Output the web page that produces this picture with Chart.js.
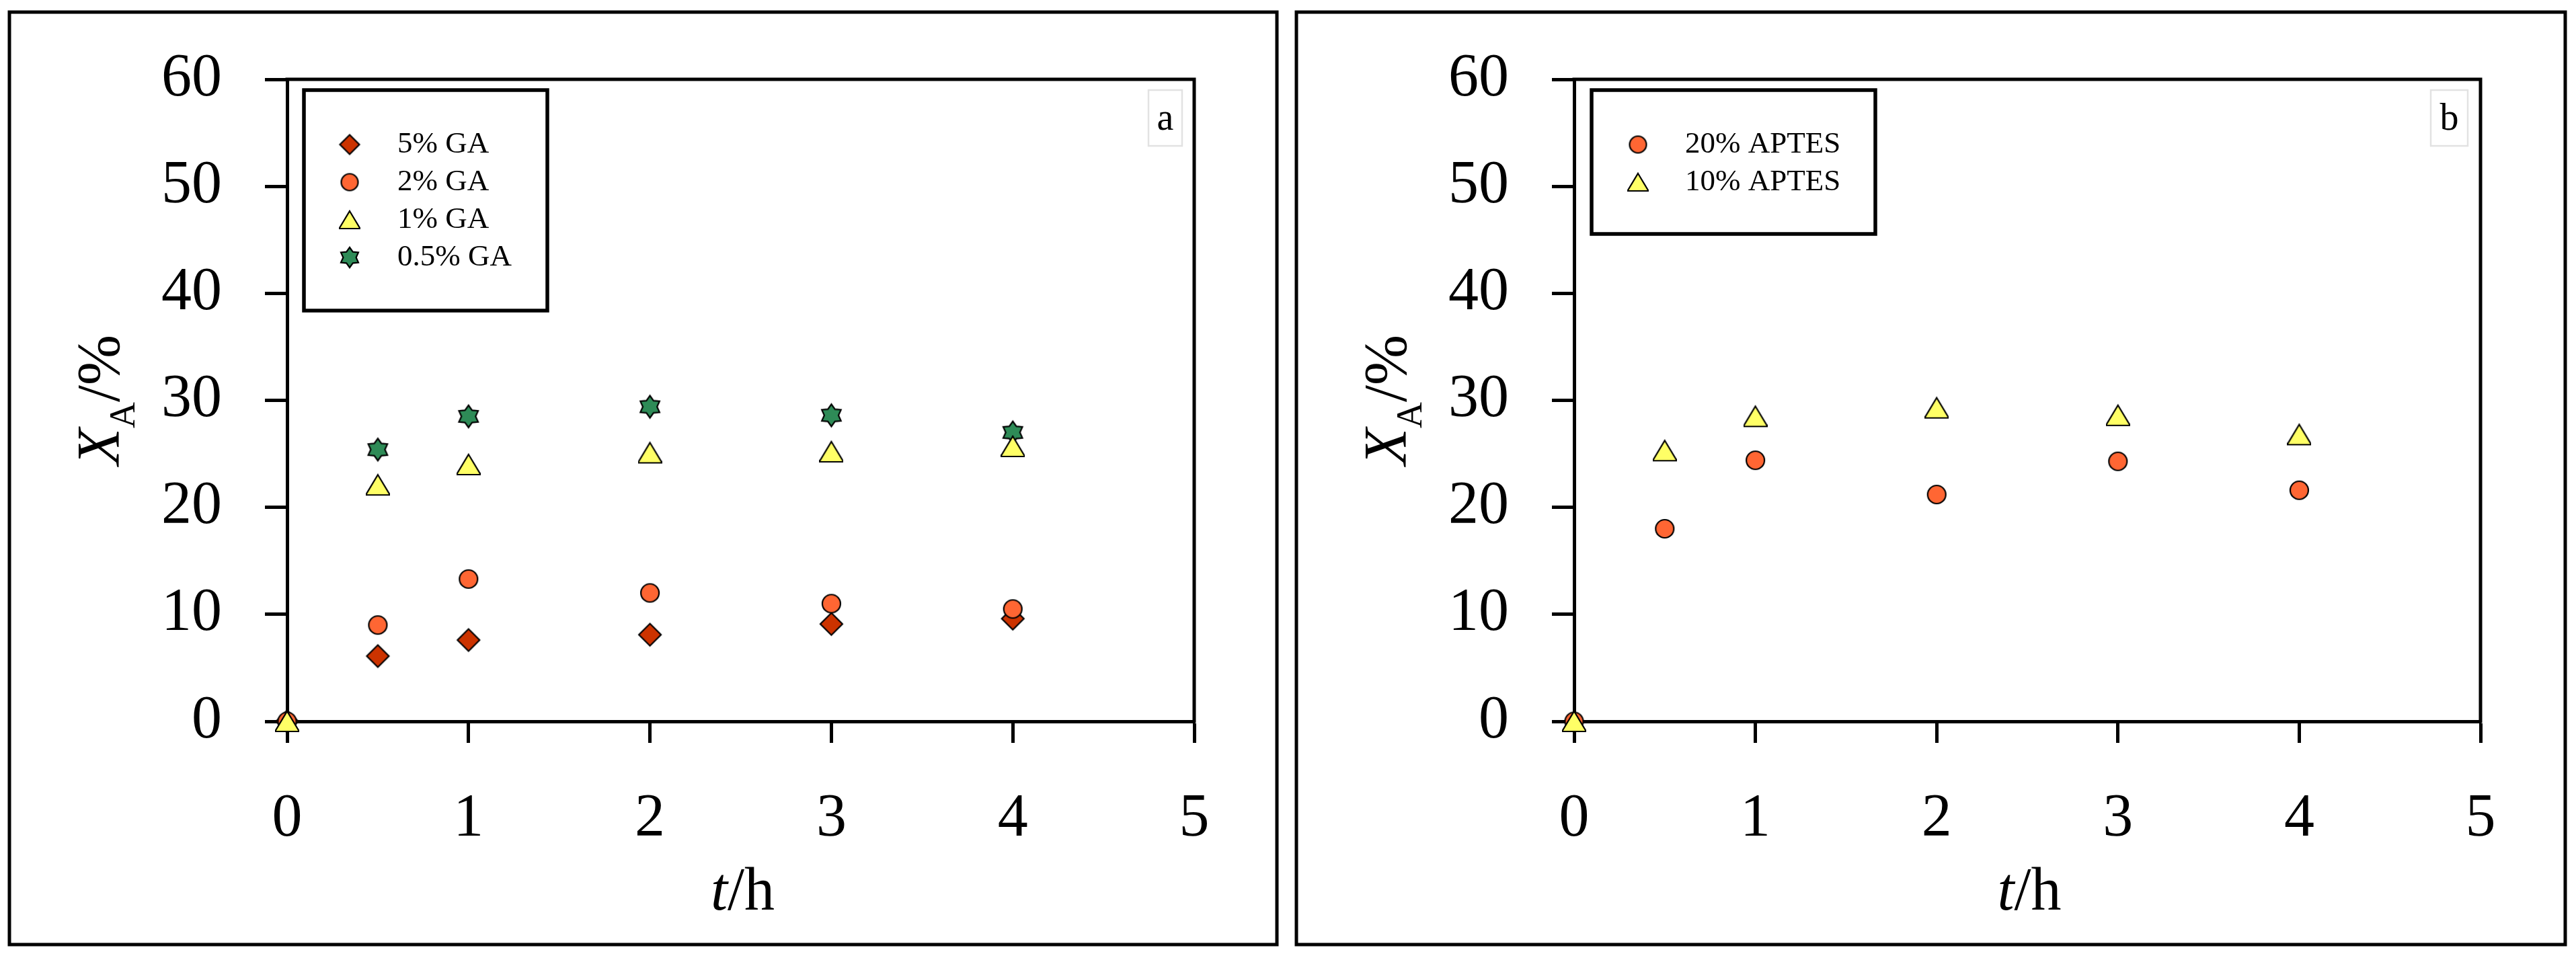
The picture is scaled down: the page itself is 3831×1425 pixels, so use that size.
<!DOCTYPE html>
<html><head><meta charset="utf-8">
<script src="https://cdn.jsdelivr.net/npm/chart.js@4.4.1/dist/chart.umd.min.js"></script>
<style>
html,body{margin:0;padding:0;background:#fff;}
#wrap{position:relative;width:3831px;height:1425px;overflow:hidden;background:#fff;}
canvas{position:absolute;top:0;}
</style></head><body>
<div id="wrap">
<canvas id="ca" width="1914" height="1425" style="left:0px"></canvas>
<canvas id="cb" width="1917" height="1425" style="left:1914px"></canvas>
</div>
<script>
// ---------- data ----------
const timesH = [0, 0.5, 1, 2, 3, 4];
const timesStar = [0.5, 1, 2, 3, 4];
const ga5 = [0, 6.1, 7.6, 8.1, 9.1, 9.6];
const ga2 = [0, 9.0, 13.3, 12.0, 11.0, 10.5];
const ga1 = [0, 22.1, 24.0, 25.1, 25.2, 25.7];
const ga05 = [25.4, 28.5, 29.4, 28.6, 27.0];
const aptes20 = [0, 18.0, 24.4, 21.2, 24.3, 21.6];
const aptes10 = [0, 25.3, 28.5, 29.3, 28.6, 26.8];
const labelsA = ['5% GA', '2% GA', '1% GA', '0.5% GA'];
const labelsB = ['20% APTES', '10% APTES'];
const xTickValues = [0, 1, 2, 3, 4, 5];
const yTickValues = [0, 10, 20, 30, 40, 50, 60];
const panelLetters = ['a', 'b'];

// ---------- styles ----------
const COL = {diamond:'#CC3300', circle:'#FF6633', triangle:'#FFFF66', star:'#2E8B57'};
const SERIF = "'Liberation Serif', 'Times New Roman', serif";

function marker(shape, s, fill) {
  const c = document.createElement('canvas');
  const size = Math.ceil(s * 2 + 6);
  c.width = size; c.height = size;
  const g = c.getContext('2d');
  const cx = size / 2, cy = size / 2;
  g.beginPath();
  if (shape === 'diamond') {
    g.moveTo(cx, cy - s); g.lineTo(cx + s, cy); g.lineTo(cx, cy + s); g.lineTo(cx - s, cy); g.closePath();
  } else if (shape === 'circle') {
    g.arc(cx, cy, s, 0, Math.PI * 2);
  } else if (shape === 'triangle') {
    const w = s * 1.2, h = s;
    g.moveTo(cx, cy - h); g.lineTo(cx + w, cy + h); g.lineTo(cx - w, cy + h); g.closePath();
  } else if (shape === 'star') {
    const ri = s * 0.64;
    for (let k = 0; k < 12; k++) {
      const r = (k % 2 === 0) ? s : ri;
      const a = -Math.PI / 2 + k * Math.PI / 6;
      const px = cx + r * Math.cos(a), py = cy + r * Math.sin(a);
      if (k === 0) g.moveTo(px, py); else g.lineTo(px, py);
    }
    g.closePath();
  }
  g.fillStyle = fill; g.fill();
  g.lineWidth = 2.2; g.strokeStyle = '#000'; g.lineJoin = 'miter'; g.stroke();
  return c;
}
const M = {
  diamond: marker('diamond', 16.5, COL.diamond),
  circle: marker('circle', 13.5, COL.circle),
  triangle: marker('triangle', 15, COL.triangle),
  star: marker('star', 16.5, COL.star)
};
const ML = {
  diamond: marker('diamond', 14.5, COL.diamond),
  circle: marker('circle', 12.5, COL.circle),
  triangle: marker('triangle', 13, COL.triangle),
  star: marker('star', 15, COL.star)
};

function pts(xs, ys) { return xs.map((x, i) => ({x: x, y: ys[i]})); }
function ds(label, xs, ys, shape, order) {
  return {label: label, data: pts(xs, ys), pointStyle: M[shape], _shape: shape,
    showLine: false, clip: false, order: order, pointRadius: 15, pointHoverRadius: 15};
}

const decor = {
  id: 'decor',
  beforeDatasetsDraw(chart, args, o) {
    const ctx = chart.ctx;
    const ca = chart.chartArea;
    ctx.save();
    // outer panel border
    ctx.strokeStyle = '#000'; ctx.lineWidth = 5;
    ctx.strokeRect(o.outer[0], o.outer[1], o.outer[2] - o.outer[0], o.outer[3] - o.outer[1]);
    // plot frame top & right
    ctx.lineWidth = 5;
    ctx.beginPath();
    ctx.moveTo(ca.left - 2.5, ca.top); ctx.lineTo(ca.right, ca.top); ctx.lineTo(ca.right, ca.bottom + 2.5);
    ctx.stroke();
    // legend box
    const lb = o.legendBox;
    ctx.lineWidth = 5.5;
    ctx.strokeRect(lb[0], lb[1], lb[2] - lb[0], lb[3] - lb[1]);
    ctx.fillStyle = '#000';
    ctx.font = '45px ' + SERIF;
    ctx.textBaseline = 'middle'; ctx.textAlign = 'left';
    chart.data.datasets.forEach((d, i) => {
      const shape = o.legendShapes[i];
      const y = o.rowY[i];
      const m = ML[shape];
      ctx.drawImage(m, o.markerX - m.width / 2, y - m.height / 2);
      ctx.fillText(d.label, o.textX, y);
    });
    // letter box
    const bb = o.letterBox;
    ctx.strokeStyle = '#e2e2e2'; ctx.lineWidth = 2.5;
    ctx.strokeRect(bb[0], bb[1], bb[2] - bb[0], bb[3] - bb[1]);
    ctx.fillStyle = '#000';
    ctx.font = '56px ' + SERIF;
    ctx.textAlign = 'center'; ctx.textBaseline = 'alphabetic';
    ctx.fillText(o.letter, (bb[0] + bb[2]) / 2, 193);
    // x axis title: t/h
    ctx.textAlign = 'left';
    ctx.font = 'italic 90px ' + SERIF;
    const wt = ctx.measureText('t').width;
    ctx.font = '90px ' + SERIF;
    const wr = ctx.measureText('/h').width;
    const cx = (ca.left + ca.right) / 2 + 3;
    let sx = cx - (wt + wr) / 2;
    ctx.font = 'italic 90px ' + SERIF;
    ctx.fillText('t', sx, 1353);
    ctx.font = '90px ' + SERIF;
    ctx.fillText('/h', sx + wt, 1353);
    // y axis title: X_A/%
    ctx.save();
    ctx.translate(177, 595);
    ctx.rotate(-Math.PI / 2);
    ctx.font = 'italic 90px ' + SERIF;
    const wX = ctx.measureText('X').width;
    ctx.font = '54px ' + SERIF;
    const wA = ctx.measureText('A').width;
    ctx.font = '90px ' + SERIF;
    const wP = ctx.measureText('/%').width;
    let px = -(wX + wA + wP) / 2;
    ctx.font = 'italic 90px ' + SERIF;
    ctx.fillText('X', px, 0);
    ctx.font = '54px ' + SERIF;
    ctx.fillText('A', px + wX, 23);
    ctx.font = '90px ' + SERIF;
    ctx.fillText('/%', px + wX + wA, 0);
    ctx.restore();
    ctx.restore();
  }
};

function makeOptions(rightPad, decorOpts) {
  const tickFont = {family: SERIF, size: 90};
  return {
    responsive: false, animation: false, events: [], devicePixelRatio: 1,
    layout: {padding: {left: 0, top: 111, right: rightPad, bottom: 0}},
    plugins: {legend: {display: false}, tooltip: {enabled: false}, decor: decorOpts},
    scales: {
      x: {
        type: 'linear', min: 0, max: 5,
        afterBuildTicks: s => { s.ticks = xTickValues.map(v => ({value: v})); },
        afterFit: s => { s.height = 352; },
        grid: {drawOnChartArea: false, drawTicks: true, tickLength: 32, tickWidth: 5, tickColor: '#000'},
        border: {display: true, color: '#000', width: 5},
        ticks: {font: tickFont, color: '#000', padding: 60, maxRotation: 0, autoSkip: false}
      },
      y: {
        type: 'linear', min: 0, max: 60,
        afterBuildTicks: s => { s.ticks = yTickValues.map(v => ({value: v})); },
        afterFit: s => { s.width = 427; },
        grid: {drawOnChartArea: false, drawTicks: true, tickLength: 33, tickWidth: 5, tickColor: '#000'},
        border: {display: true, color: '#000', width: 5},
        ticks: {font: tickFont, color: '#000', padding: 64, autoSkip: false}
      }
    }
  };
}

new Chart(document.getElementById('ca'), {
  type: 'scatter',
  data: {datasets: [
    ds(labelsA[0], timesH, ga5, 'diamond', 4),
    ds(labelsA[1], timesH, ga2, 'circle', 3),
    ds(labelsA[2], timesH, ga1, 'triangle', 1),
    ds(labelsA[3], timesStar, ga05, 'star', 2)
  ]},
  options: makeOptions(138, {
    outer: [14, 18, 1899, 1405],
    legendBox: [452, 134, 814, 462],
    legendShapes: ['diamond', 'circle', 'triangle', 'star'],
    rowY: [215, 271, 327, 383], markerX: 520, textX: 591,
    letter: panelLetters[0], letterBox: [1708, 134, 1758, 217]
  }),
  plugins: [decor]
});

new Chart(document.getElementById('cb'), {
  type: 'scatter',
  data: {datasets: [
    ds(labelsB[0], timesH, aptes20, 'circle', 2),
    ds(labelsB[1], timesH, aptes10, 'triangle', 1)
  ]},
  options: makeOptions(142, {
    outer: [14, 18, 1901, 1405],
    legendBox: [453, 134, 875, 348],
    legendShapes: ['circle', 'triangle'],
    rowY: [215, 271], markerX: 522, textX: 592,
    letter: panelLetters[1], letterBox: [1701, 134, 1756, 217]
  }),
  plugins: [decor]
});
</script>
</body></html>
